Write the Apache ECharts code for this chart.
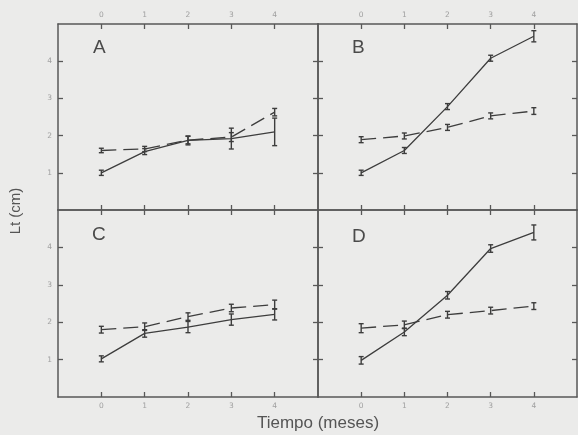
<!DOCTYPE html>
<html><head><meta charset="utf-8">
<script src="https://cdn.jsdelivr.net/npm/echarts@6/dist/echarts.min.js"></script>
<style>html,body{margin:0;padding:0;background:#ebebea;}#c{width:578px;height:435px;}</style>
</head><body><div id="c"></div>
<script>
const months = [0, 1, 2, 3, 4];
const xTickLabels = ['0', '1', '2', '3', '4'];
const yTickValues = [1, 2, 3, 4];
const yTickLabels = ['1', '2', '3', '4'];
const panelNames = ['A', 'B', 'C', 'D'];

const solidA = [1.0, 1.57, 1.87, 1.92, 2.1];
const solidAErr = [0.07, 0.08, 0.12, 0.28, 0.37];
const dashA = [1.6, 1.64, 1.88, 1.96, 2.63];
const dashAErr = [0.06, 0.07, 0.1, 0.12, 0.1];

const solidB = [1.0, 1.6, 2.78, 4.08, 4.67];
const solidBErr = [0.07, 0.08, 0.08, 0.08, 0.15];
const dashB = [1.89, 1.99, 2.22, 2.53, 2.66];
const dashBErr = [0.08, 0.08, 0.08, 0.08, 0.09];

const solidC = [1.02, 1.7, 1.87, 2.07, 2.21];
const solidCErr = [0.08, 0.1, 0.15, 0.15, 0.15];
const dashC = [1.8, 1.88, 2.15, 2.38, 2.47];
const dashCErr = [0.09, 0.1, 0.1, 0.1, 0.12];

const solidD = [0.98, 1.74, 2.72, 3.97, 4.4];
const solidDErr = [0.1, 0.1, 0.1, 0.1, 0.2];
const dashD = [1.84, 1.93, 2.2, 2.31, 2.43];
const dashDErr = [0.12, 0.1, 0.09, 0.09, 0.09];

const panels = [
  {solid: solidA, solidErr: solidAErr, dash: dashA, dashErr: dashAErr},
  {solid: solidB, solidErr: solidBErr, dash: dashB, dashErr: dashBErr},
  {solid: solidC, solidErr: solidCErr, dash: dashC, dashErr: dashCErr},
  {solid: solidD, solidErr: solidDErr, dash: dashD, dashErr: dashDErr}
];

const INK = '#3d3d3d';
const FRAME = '#585858';
const LABEL = '#a0a0a0';

const gridBoxes = [
  {left: 58, top: 24, width: 260, height: 186},
  {left: 318, top: 24, width: 259, height: 186},
  {left: 58, top: 210, width: 260, height: 187},
  {left: 318, top: 210, width: 259, height: 187}
];

const grid = [], xAxis = [], yAxis = [], series = [];

function xLab(v) { const i = months.indexOf(v); return i >= 0 ? xTickLabels[i] : ''; }
function yLab(v) { const i = yTickValues.indexOf(v); return i >= 0 ? yTickLabels[i] : ''; }

gridBoxes.forEach((g, gi) => {
  grid.push(Object.assign({}, g));
  const row = gi < 2 ? 0 : 1, col = gi % 2;
  ['bottom', 'top'].forEach(pos => {
    const showLab = (row === 0 && pos === 'top') || (row === 1 && pos === 'bottom');
    xAxis.push({
      type: 'value', gridIndex: gi, position: pos, min: -1, max: 5, interval: 1,
      axisLine: {show: true, onZero: false, lineStyle: {color: FRAME, width: 1.5}},
      axisTick: {show: true, inside: true, length: 5, customValues: months, lineStyle: {color: FRAME, width: 1.3}},
      axisLabel: {show: showLab, customValues: months, formatter: xLab, color: LABEL, fontSize: 7.5, margin: 5, fontFamily: 'DejaVu Sans'},
      splitLine: {show: false}
    });
  });
  ['left', 'right'].forEach(pos => {
    const showLab = col === 0 && pos === 'left';
    yAxis.push({
      type: 'value', gridIndex: gi, position: pos, min: 0, max: 5, interval: 1,
      axisLine: {show: true, onZero: false, lineStyle: {color: FRAME, width: 1.5}},
      axisTick: {show: true, inside: true, length: 5, customValues: yTickValues, lineStyle: {color: FRAME, width: 1.3}},
      axisLabel: {show: showLab, customValues: yTickValues, formatter: yLab, color: LABEL, fontSize: 7.5, margin: 6, fontFamily: 'DejaVu Sans'},
      splitLine: {show: false}
    });
  });
});

function errSeries(gi, vals, errs) {
  return {
    type: 'custom', xAxisIndex: gi * 2, yAxisIndex: gi * 2,
    data: months.map((m, i) => [m, vals[i] - errs[i], vals[i] + errs[i]]),
    renderItem: function (params, api) {
      const lo = api.coord([api.value(0), api.value(1)]);
      const hi = api.coord([api.value(0), api.value(2)]);
      const w = 2.5;
      const st = {stroke: INK, lineWidth: 1.4};
      return {type: 'group', children: [
        {type: 'line', shape: {x1: lo[0], y1: lo[1], x2: hi[0], y2: hi[1]}, style: st},
        {type: 'line', shape: {x1: lo[0] - w, y1: lo[1], x2: lo[0] + w, y2: lo[1]}, style: st},
        {type: 'line', shape: {x1: hi[0] - w, y1: hi[1], x2: hi[0] + w, y2: hi[1]}, style: st}
      ]};
    },
    silent: true, z: 3
  };
}

panels.forEach((p, gi) => {
  series.push({
    type: 'line', xAxisIndex: gi * 2, yAxisIndex: gi * 2,
    data: months.map((m, i) => [m, p.solid[i]]),
    symbol: 'none', lineStyle: {color: INK, width: 1.3}, silent: true, z: 2
  });
  series.push({
    type: 'line', xAxisIndex: gi * 2, yAxisIndex: gi * 2,
    data: months.map((m, i) => [m, p.dash[i]]),
    symbol: 'none', lineStyle: {color: INK, width: 1.3, type: [15, 7]}, silent: true, z: 2
  });
  series.push(errSeries(gi, p.solid, p.solidErr));
  series.push(errSeries(gi, p.dash, p.dashErr));
});

const letterPos = [[93, 48], [352, 48], [92, 235], [352, 237]];
const graphic = panelNames.map((n, i) => ({
  type: 'text', x: letterPos[i][0], y: letterPos[i][1],
  style: {text: n, fill: '#4a4a4a', fontSize: 19, fontFamily: 'Liberation Sans', textVerticalAlign: 'middle'}
}));
graphic.push({
  type: 'text', x: 16, y: 211, rotation: Math.PI / 2,
  style: {text: 'Lt (cm)', fill: '#555', fontSize: 15, fontFamily: 'Liberation Sans', textAlign: 'center', textVerticalAlign: 'middle'}
});
graphic.push({
  type: 'text', x: 318, y: 423,
  style: {text: 'Tiempo (meses)', fill: '#555', fontSize: 17, fontFamily: 'Liberation Sans', textAlign: 'center', textVerticalAlign: 'middle'}
});

const chart = echarts.init(document.getElementById('c'), null, {renderer: 'canvas'});
chart.setOption({
  backgroundColor: '#ebebea',
  animation: false,
  grid, xAxis, yAxis, series, graphic
});
</script></body></html>
